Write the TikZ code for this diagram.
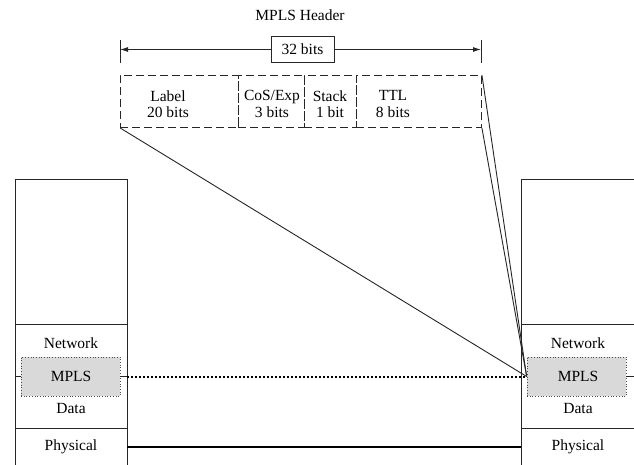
\documentclass[tikz,border=0pt]{standalone}
\usepackage{fontspec}
\setmainfont{Liberation Serif}
\usetikzlibrary{arrows.meta}
\begin{document}
\begin{tikzpicture}[x=1pt,y=-1pt,
  every node/.style={font=\fontsize{15.5}{16.5}\selectfont, inner sep=0pt},
  thin line/.style={line width=0.9pt, draw=black!85},
  field/.style={draw=black!85, line width=0.9pt, dash pattern=on 8pt off 4pt, minimum height=52pt, anchor=north west},
  mplsbox/.style={draw=black!70, fill=black!15, dotted, line width=0.7pt, minimum width=99pt, minimum height=39pt},
  lbl/.style={align=center},
  arr/.style={thin line, -{Latex[length=8pt,width=5pt]}}
]
\useasboundingbox (0,0) rectangle (634,465);
\fill[white] (0,0) rectangle (634,465);

% title and width marker
\node (title) at (300,15) {MPLS Header};
\coordinate (tlt) at (120,40); \coordinate (tlb) at (120,63);
\coordinate (trt) at (481,40); \coordinate (trb) at (481,63);
\draw[thin line] (tlt) -- (tlb);
\draw[thin line] (trt) -- (trb);
\node[draw=black!85, line width=0.9pt, minimum width=63pt, minimum height=26pt] (bits) at (302.5,49.5) {32 bits};
\coordinate (al) at (120,49.5); \coordinate (ar) at (481,49.5);
\draw[arr] (bits.west) -- (al);
\draw[arr] (bits.east) -- (ar);

% header fields
\node[field, minimum width=118pt] (f1) at (120,75) {};
\node[field, minimum width=66pt] (f2) at (238,75) {};
\node[field, minimum width=52pt] (f3) at (304,75) {};
\node[field, minimum width=125pt] (f4) at (356,75) {};
\node[lbl] (t1) at (168,104) {Label\\20 bits};
\node[lbl] (t2) at (272,104) {CoS/Exp\\3 bits};
\node[lbl] (t3) at (330,104) {Stack\\1 bit};
\node[lbl] (t4) at (393,104) {TTL\\8 bits};

% left stack
\draw[thin line] (15,466) -- (15,179) -- (127,179) -- (127,466);
\draw[thin line] (15,324) -- (127,324);
\draw[thin line] (15,428) -- (127,428);
\node (ln) at (71,343) {Network};
\node[mplsbox] (lm) at (70.5,376.5) {};
\node (lmt) at (71,376) {MPLS};
\node (ld) at (71,408) {Data};
\node (lp) at (71,447) {Physical};

% right stack
\draw[thin line] (521,466) -- (521,179) -- (635,179);
\draw[thin line] (521,324) -- (635,324);
\draw[thin line] (521,428) -- (635,428);
\node (rn) at (578,343) {Network};
\node[mplsbox] (rm) at (576.5,376.5) {};
\node (rmt) at (578,376) {MPLS};
\node (rd) at (578,408) {Data};
\node (rp) at (578,447) {Physical};

% connectors between stacks
\coordinate (lse) at (15,376.5);
\coordinate (lsr) at (127,376.5);
\coordinate (rse) at (634,376.5);
\coordinate (lpr) at (127,447);
\coordinate (rpl) at (521,447);
\draw[thin line] (lse) -- (lm.west);
\draw[thin line] (lm.east) -- (lsr);
\draw[thin line] (rm.east) -- (rse);
\draw[line width=2pt, dash pattern=on 2pt off 2pt] (lsr) -- (rm.west);
\draw[line width=1.8pt] (lpr) -- (rpl);

% zoom lines
\draw[thin line] (f1.south west) -- (rm.west);
\draw[thin line] (f4.north east) -- (rm.west);
\draw[thin line] (f4.south east) -- (rm.west);
\end{tikzpicture}
\end{document}
